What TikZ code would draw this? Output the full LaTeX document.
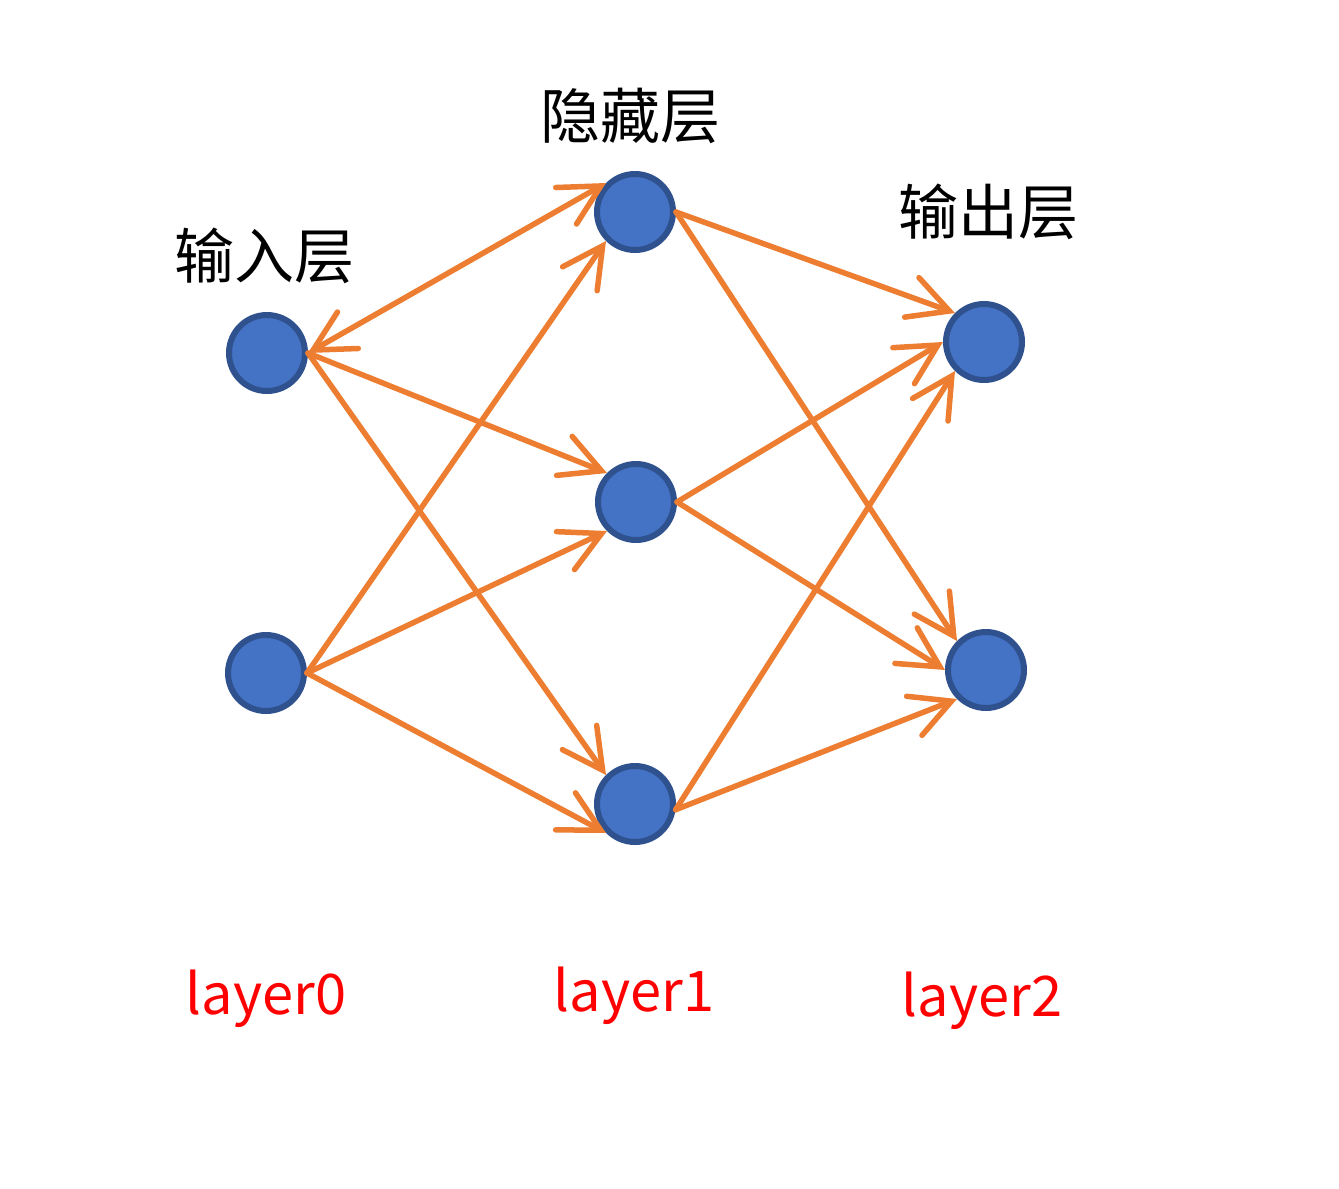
\documentclass[tikz,border=0pt]{standalone}
\usepackage{fontspec}
\setmainfont{Noto Sans CJK SC}
\usetikzlibrary{arrows.meta}
\definecolor{nfill}{HTML}{4472C4}
\definecolor{nline}{HTML}{2F528F}
\definecolor{eorange}{HTML}{ED7D31}
\definecolor{lred}{HTML}{FF0000}
\tikzset{barb/.tip={Straight Barb[length=40pt,width=42pt,line width=5.5pt,line cap=round]}}
\begin{document}
\begin{tikzpicture}[x=1pt,y=-1pt,
  neuron/.style={circle,fill=nfill,draw=nline,line width=6pt,minimum size=76pt,inner sep=0pt},
  edge/.style={draw=eorange,line width=5.5pt,line cap=round,-barb},
  title/.style={font=\fontsize{60}{72}\selectfont},
  lbl/.style={font=\fontsize{56}{66}\selectfont,text=lred}]
\useasboundingbox (0,0) rectangle (1339,1189);
\node[neuron] (i1) at (267,353) {};
\node[neuron] (i2) at (266,673) {};
\node[neuron] (h1) at (635,212) {};
\node[neuron] (h2) at (636,502) {};
\node[neuron] (h3) at (635,804) {};
\node[neuron] (o1) at (984,342) {};
\node[neuron] (o2) at (986,670) {};
\node[title] (t0) at (264,256) {输入层};
\node[title] (t1) at (630,116) {隐藏层};
\node[title] (t2) at (988,212) {输出层};
\node[lbl] (l0) at (266,999) {layer0};
\node[lbl] (l1) at (634,996) {layer1};
\node[lbl] (l2) at (982,1001) {layer2};
\draw[edge,barb-barb] (i1.east) -- (h1.north west);
\draw[edge] (i1.east) -- (h2.north west);
\draw[edge] (i1.east) -- (h3.north west);
\draw[edge] (i2.east) -- (h1.south west);
\draw[edge] (i2.east) -- (h2.south west);
\draw[edge] (i2.east) -- (h3.south west);
\draw[edge] (h1.east) -- (o1.north west);
\draw[edge] (h1.east) -- (o2.north west);
\draw[edge] (h2.east) -- (o1.west);
\draw[edge] (h2.east) -- (o2.west);
\draw[edge] (h3.-8) -- (o1.south west);
\draw[edge] (h3.-8) -- (o2.south west);
\end{tikzpicture}
\end{document}
